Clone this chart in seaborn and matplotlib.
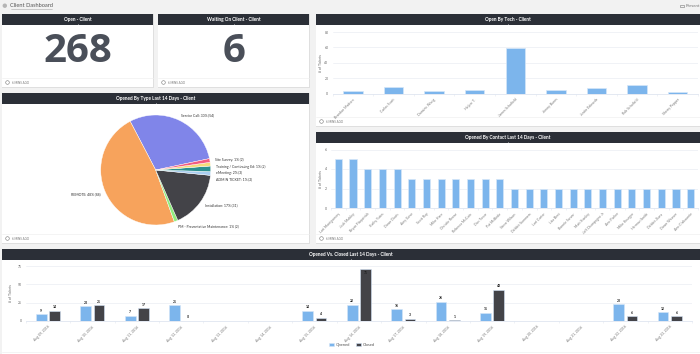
import matplotlib
matplotlib.use('Agg')
import numpy as np
import pandas as pd
import seaborn as sns
import matplotlib.pyplot as plt
from matplotlib.patches import Rectangle, Circle

W, H = 700, 354

# data
open_client = 268
waiting_client = 6

tech_names = ['Brandon Madsen', 'Carlos Scott', 'Dominic Wong', 'Helper T.', 'James Schofield',
              'Jimmy Burns', 'Justin Edwards', 'Rob Schofield', 'Sherry Pepper']
tech_tickets = [3, 8, 3, 4, 59, 4, 7, 11, 2]

contact_names = ['Lori Montgomery', 'Josh Mobley', 'Bryan Fitzpatrick', 'Kathy Yates', 'Dawn Davis',
                 'Amy Gove', 'Scott Ray', 'Mike Hare', 'Christie Reese', 'Rebecca McCain',
                 'Dan Tovar', 'Pat McBride', 'Steve Wilson', 'Debbie Summers', 'Lori Carter',
                 'Lisa Best', 'Bonnie Sarver', 'Matt Stanley', 'Jeff Champagne Jr', 'Ann Parker',
                 'Mike Krueger', 'Herman Smith', 'Debbie Zuna', 'Dawn Weaver', 'Ann Clabaurnie']
contact_tickets = [5, 5, 4, 4, 4, 3, 3, 3, 3, 3, 3, 3, 2, 2, 2, 2, 2, 2, 2, 2, 2, 2, 2, 2, 2]

type_labels = ['Service Call: 30% (54)', 'REMOTE: 48% (88)', 'PM - Preventative Maintenance: 1% (2)',
               'Installation: 17% (31)', 'ADMIN TICKET: 1% (2)', 'eMeeting: 2% (3)',
               'Training / Continuing Ed: 1% (2)', 'Site Survey: 1% (2)']
type_counts = [54, 88, 2, 31, 2, 3, 2, 2]
type_colors = ['#8085e9', '#f7a35c', '#90ed7d', '#434348', '#a9cdf0', '#2b908f', '#f3dc7a', '#f15c80']

days = ['Aug 09, 2016', 'Aug 10, 2016', 'Aug 11, 2016', 'Aug 12, 2016', 'Aug 13, 2016',
        'Aug 14, 2016', 'Aug 15, 2016', 'Aug 16, 2016', 'Aug 17, 2016', 'Aug 18, 2016',
        'Aug 19, 2016', 'Aug 20, 2016', 'Aug 21, 2016', 'Aug 22, 2016', 'Aug 23, 2016']
opened = [9, 20, 7, 21, None, None, 14, 22, 16, 26, 11, None, None, 23, 12]
closed = [14, 21, 17, 0, None, None, 4, 71, 3, 1, 43, None, None, 6, 6]

BLUE = '#7cb5ec'
DARK = '#434348'
HEADER = '#2b2f37'

sns.set_theme(style='white')
plt.rcParams['font.family'] = ['Lato', 'DejaVu Sans']

fig = plt.figure(figsize=(W / 100, H / 100), dpi=100, facecolor='#f2f2f2')
bg = fig.add_axes([0, 0, 1, 1], zorder=0)
bg.set_xlim(0, W)
bg.set_ylim(H, 0)
bg.axis('off')


def px_axes(x0, y0, x1, y1):
    ax = fig.add_axes([x0 / W, 1 - y1 / H, (x1 - x0) / W, (y1 - y0) / H], zorder=2)
    ax.patch.set_alpha(0)
    return ax


def panel(x0, y0, x1, y1, title, footer=True):
    bg.add_patch(Rectangle((x0 - 0.5, y0 - 0.5), x1 - x0 + 1, y1 - y0 + 1.5, fc='#dfdfdf', ec='none'))
    bg.add_patch(Rectangle((x0, y0), x1 - x0, y1 - y0, fc='white', ec='none'))
    bg.add_patch(Rectangle((x0, y0), x1 - x0, 11, fc=HEADER, ec='none'))
    mid = (x0 + x1) / 2
    bg.text(mid, y0 + 5.4, title, color='white', fontsize=3.4, fontweight='bold', ha='center', va='center')
    bg.plot([mid], [y0 + 11], marker='^', ms=2, color='white', mew=0)
    if footer:
        bg.plot([x0, x1], [y1 - 9, y1 - 9], color='#f0f0f0', lw=0.5)
        bg.add_patch(Circle((x0 + 5.5, y1 - 4.5), 1.8, fc='none', ec='#777777', lw=0.4))
        bg.text(x0 + 9.5, y1 - 4.4, '6 MINS AGO', color='#777777', fontsize=2.2, va='center')


def style_axes(ax, ylabel, ymax, step, pad=1):
    ax.set_ylim(0, ymax)
    ax.set_yticks(range(0, ymax + 1, step))
    ax.set_xlabel('')
    ax.set_ylabel(ylabel, fontsize=2.5, color='#666666', labelpad=pad)
    ax.grid(axis='y', color='#eef0f5', lw=0.6)
    ax.set_axisbelow(True)
    sns.despine(ax=ax, left=True)
    ax.spines['bottom'].set_color('#dfe5f0')
    ax.spines['bottom'].set_linewidth(0.6)
    n = len(ax.get_xticks())
    ax.set_xticks(np.arange(n + 1) - 0.5, minor=True)
    ax.tick_params(axis='y', labelsize=2.5, labelcolor='#666666', length=0, pad=3)
    ax.tick_params(axis='x', which='major', labelsize=2.5, labelcolor='#777777', length=0, pad=3)
    ax.tick_params(axis='x', which='minor', length=1.5, width=0.4, color='#e3e7f0', bottom=True)
    for lab in ax.get_xticklabels():
        lab.set_rotation(45)
        lab.set_ha('right')
        lab.set_rotation_mode('anchor')


# page header
bg.add_patch(Circle((4.8, 5.7), 2.2, fc='#b5b5b5', ec='none'))
bg.text(10.5, 5.7, 'Client Dashboard', fontsize=4.1, color='#555555', va='center')
bg.plot([10.5, 52], [8.9, 8.9], color='#aaaaaa', lw=0.4)
bg.add_patch(Rectangle((680, 4.5), 3.5, 2.6, fc='none', ec='#777777', lw=0.4))
bg.text(686, 5.8, 'Present', fontsize=3.2, color='#777777', va='center')

# number tiles
panel(2, 14, 153, 87, 'Open - Client')
panel(158, 14, 309, 87, 'Waiting On Client - Client')
bg.text(77.5, 51.5, str(open_client), fontsize=29, fontweight='bold', family='Open Sans',
        color='#4a4f59', ha='center', va='center')
bg.text(234, 51.5, str(waiting_client), fontsize=29, fontweight='bold', family='Open Sans',
        color='#4a4f59', ha='center', va='center')

# open by tech
panel(316, 14, 700, 126, 'Open By Tech - Client')
ax1 = px_axes(332.5, 32, 698, 93.5)
tech = pd.DataFrame({'name': tech_names, 'tickets': tech_tickets})
sns.barplot(data=tech, x='name', y='tickets', color=BLUE, saturation=1, width=0.48,
            edgecolor='#d5e6f8', linewidth=0.5, ax=ax1)
style_axes(ax1, '# of Tickets', 80, 20)

# opened by contact
panel(316, 132, 700, 243, 'Opened By Contact Last 14 Days - Client')
ax2 = px_axes(331, 149.5, 698, 208)
contact = pd.DataFrame({'name': contact_names, 'tickets': contact_tickets})
sns.barplot(data=contact, x='name', y='tickets', color=BLUE, saturation=1, width=0.48,
            edgecolor='#d5e6f8', linewidth=0.5, ax=ax2)
style_axes(ax2, '# of Tickets', 6, 2)

# pie
panel(2, 93, 309, 243, 'Opened By Type Last 14 Days - Client')
ax3 = px_axes(78.7, 93, 232.7, 247)
wedges, texts = ax3.pie(type_counts, labels=type_labels, colors=type_colors, startangle=12,
                        counterclock=True, labeldistance=1.1,
                        wedgeprops={'edgecolor': 'white', 'linewidth': 0.3},
                        textprops={'fontsize': 2.5, 'color': '#333333'})
ax3.set_xlim(-1.4, 1.4)
ax3.set_ylim(-1.4, 1.4)
# small slices: spread the labels apart like the original
texts[4].set_y(-0.176)
texts[5].set_y(-0.06)
texts[6].set_y(0.055)
texts[7].set_y(0.19)

# opened vs closed
panel(2, 249, 700, 362, 'Opened Vs. Closed Last 14 Days - Client', footer=False)
bg.plot([2, 700], [352, 352], color='#f0f0f0', lw=0.5)
ax4 = px_axes(25.8, 266.3, 692, 320.7)
daily = pd.DataFrame({'day': days * 2,
                      'kind': ['Opened'] * len(days) + ['Closed'] * len(days),
                      'tickets': opened + closed})
sns.barplot(data=daily, x='day', y='tickets', hue='kind', order=days, hue_order=['Opened', 'Closed'],
            palette={'Opened': BLUE, 'Closed': DARK}, saturation=1, width=0.6, gap=0.2,
            edgecolor='#d5e6f8', linewidth=0.4, ax=ax4)
style_axes(ax4, '# of Tickets', 75, 25, pad=3)
ax4.set_xlim(-0.5, len(days) - 0.5)
for cont in ax4.containers:
    labs = ax4.bar_label(cont, fmt='%g', fontsize=2.5, fontweight='bold', color='#222222', padding=1)
    for lab in labs:
        if lab.get_text() == '71':
            lab.xyann = (0, -4)  # sits inside the tall bar
ax4.legend(loc='center', bbox_to_anchor=(352 / W, 1 - 345 / H), bbox_transform=fig.transFigure,
           ncol=2, frameon=False, fontsize=3.0, handlelength=1.2, handleheight=0.9,
           columnspacing=1.4, handletextpad=0.5, labelcolor='#555555')

fig.savefig('out.png', dpi=100, facecolor=fig.get_facecolor())
plt.close()
